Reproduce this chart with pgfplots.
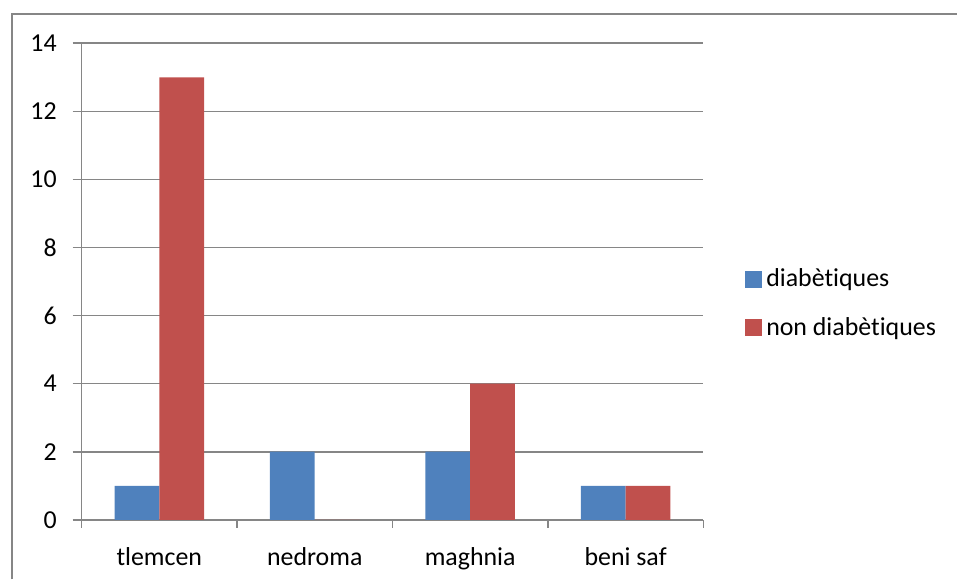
\documentclass[border=0pt]{standalone}
\usepackage{fontspec}
\setmainfont[RawFeature={-liga;-clig;-dlig;-calt}]{Carlito}
\usepackage{pgfplots}
\pgfplotsset{compat=1.18}

\definecolor{serieA}{HTML}{4F81BD}
\definecolor{serieB}{HTML}{C0504D}
\definecolor{axisgray}{HTML}{868686}

\begin{document}
\begin{tikzpicture}
\begin{axis}[
  at={(0,0)}, anchor=south west,
  scale only axis,
  width=312.5pt, height=239.5pt,
  ybar=0pt, bar width=22.5pt,
  xmin=-0.5, xmax=3.5,
  ymin=0, ymax=14,
  ytick={0,2,...,14},
  xtick={0,1,2,3},
  xticklabels={tlemcen,nedroma,maghnia,beni saf},
  minor xtick={-0.5,0.5,1.5,2.5,3.5},
  axis x line*=bottom, axis y line*=left,
  axis line style={axisgray, line width=0.8pt},
  x axis line style={-}, y axis line style={-},
  ymajorgrids, grid style={axisgray, line width=0.8pt},
  tick align=outside,
  tick style={axisgray, line width=0.8pt},
  major x tick style={draw=none},
  major tick length=4.5pt,
  minor tick length=4pt,
  /pgf/number format/assume math mode=true,
  tick label style={font=\fontsize{13}{15}\selectfont, text=black},
  yticklabel style={xshift=-4.5pt},
  xticklabel style={yshift=-6pt},
  legend style={draw=none, at={(1.067,0.454)}, anchor=west,
    font=\fontsize{13}{15}\selectfont, row sep=10pt, inner sep=0pt,
    cells={anchor=west}},
  legend image code/.code={\fill[#1] (0pt,-4.25pt) rectangle (8.5pt,4.25pt);},
]
\addplot[fill=serieA, draw=none] coordinates {(0,1) (1,2) (2,2) (3,1)};
\addplot[fill=serieB, draw=none] coordinates {(0,13) (1,0) (2,4) (3,1)};
\legend{diabètiques, non diabètiques}
\end{axis}
\draw[axisgray, line width=1pt] (-35pt,-30pt) -- (-35pt,254.25pt) -- (440pt,254.25pt);
\useasboundingbox (-41pt,-29.25pt) rectangle (438pt,261.25pt);
\end{tikzpicture}
\end{document}
